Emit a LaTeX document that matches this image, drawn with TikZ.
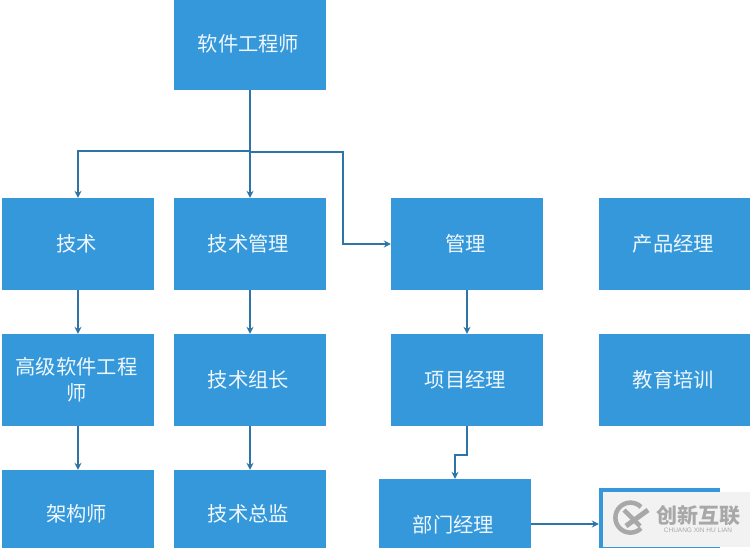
\documentclass[tikz,border=0pt]{standalone}
\usepackage{fontspec}
\newfontfamily\cjk{Noto Sans CJK SC}
\setmainfont{Liberation Sans}
\usetikzlibrary{arrows.meta}
\definecolor{boxblue}{HTML}{3498DB}
\definecolor{linkblue}{HTML}{2F74A6}
\definecolor{markgray}{HTML}{A8A8A8}
\begin{document}
\begin{tikzpicture}[x=1pt, y=-1pt, >={Stealth[length=7pt,width=7pt]},
        jobbox/.style={rectangle, fill=boxblue, minimum width=152pt, minimum height=92pt, inner sep=0pt,
            text=white!92!boxblue, align=center, font=\cjk\fontsize{20.3}{26}\selectfont,
            execute at begin node={\hspace*{-3pt}}},
        link/.style={draw=linkblue, line width=1.5pt, ->},
        marktext/.style={inner sep=0pt, text=markgray}]
        \useasboundingbox (0, 0) rectangle (750, 547);
        \clip (0, 0) rectangle (750, 547);
        % ---- top ----
        \node[jobbox] (root) at (250, 44) {软件工程师};
        % ---- first row ----
        \node[jobbox] (tech) at (78, 244) {技术};
        \node[jobbox] (techmgr) at (250, 244) {技术管理};
        \node[jobbox] (mgr) at (467, 244) {管理};
        \node[jobbox] (product) at (675, 244) {产品经理};
        % ---- second row ----
        \node[jobbox] (senior) at (78, 380) {高级软件工程\\师};
        \node[jobbox] (lead) at (250, 380) {技术组长};
        \node[jobbox] (pm) at (467, 380) {项目经理};
        \node[jobbox] (training) at (675, 380) {教育培训};
        % ---- third row ----
        \node[jobbox, minimum height=88pt] (architect) at (78, 514) {架构师};
        \node[jobbox, minimum height=88pt] (director) at (250, 514) {技术总监};
        \node[jobbox] (dept) at (455, 525) {部门经理};
        \node[jobbox, minimum width=121pt] (next) at (659.5, 534) {};
        % ---- bends ----
        \coordinate (busleft) at (250, 151);
        \coordinate (busright) at (250, 152);
        \coordinate (bendmgr) at (343, 244);
        \coordinate (benddept) at (455, 455);
        % ---- links ----
        \draw[link] (root.south) -- (busleft) -| (tech.north);
        \draw[link] (root.south) -- (techmgr.north);
        \draw[link] (busright) -| (bendmgr) -- (mgr.west);
        \draw[link] (tech) -- (senior);
        \draw[link] (senior) -- (architect);
        \draw[link] (techmgr) -- (lead);
        \draw[link] (lead) -- (director);
        \draw[link] (mgr) -- (pm);
        \draw[link] (pm.south) |- (benddept) -- (dept.north);
        \draw[link] (dept.east |- 0, 524) -- (next.west |- 0, 524);
        % ---- corner mark ----
        \fill[gray!10] (603, 492) rectangle (750, 547);
        \draw[markgray, line width=4.5pt] (641, 507) arc[start angle=-45, end angle=-315, radius=15];
        \draw[markgray, line width=4.5pt] (624, 510) -- (640, 526);
        \draw[markgray, line width=5pt] (626, 526) -- (648, 510);
        \node[marktext, font=\cjk\bfseries\fontsize{21}{21}\selectfont] (markname) at (698, 516) {创新互联};
        \node[marktext, font=\fontsize{6.5}{7}\selectfont] (markpinyin) at (698, 530) {CHUANG XIN HU LIAN};
\end{tikzpicture}
\end{document}
